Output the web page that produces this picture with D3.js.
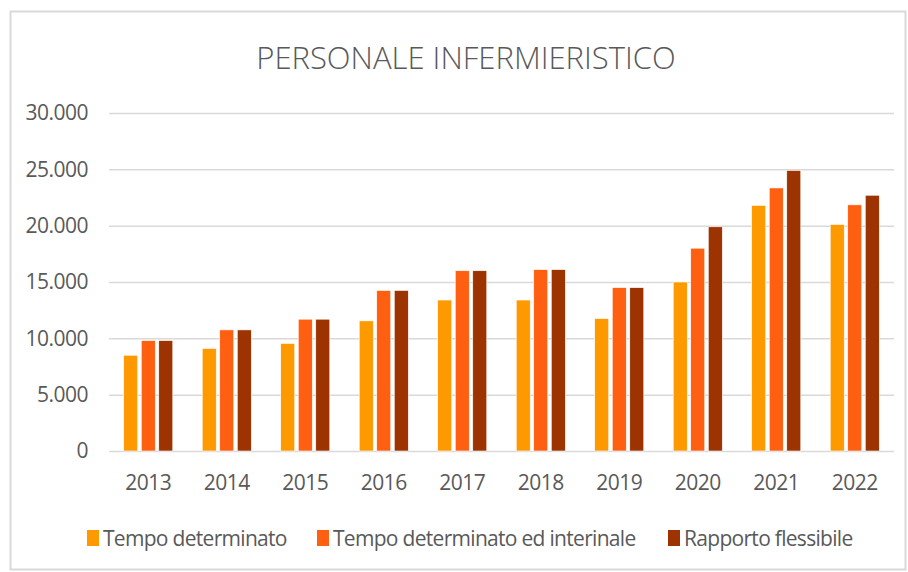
<!DOCTYPE html>
<html>
<head>
<meta charset="utf-8">
<script src="https://cdn.jsdelivr.net/npm/d3@7"></script>
<style>
  body { margin: 0; background: #fff; }
  text { font-family: "Open Sans", sans-serif; fill: #595959; }
</style>
</head>
<body>
<div id="chart"></div>
<script>
// data
const years = ["2013", "2014", "2015", "2016", "2017", "2018", "2019", "2020", "2021", "2022"];
const seriesNames = ["Tempo determinato", "Tempo determinato ed interinale", "Rapporto flessibile"];
const tempoDeterminato = [8500, 9100, 9550, 11550, 13400, 13400, 11750, 15000, 21800, 20100];
const tempoInterinale = [9800, 10750, 11700, 14250, 16000, 16100, 14500, 18000, 23350, 21850];
const rapportoFlessibile = [9800, 10750, 11700, 14250, 16000, 16100, 14500, 19900, 24900, 22700];
const yTicks = [0, 5000, 10000, 15000, 20000, 25000, 30000];
const colors = ["#FF9900", "#FF5F11", "#9C3300"];

let width = 908,
    height = 572,
    margin = ({ top: 113, right: 14, bottom: 121, left: 109 });

const svg = d3.select("#chart")
  .append("svg")
  .attr("width", width)
  .attr("height", height);

// chart frame
svg.append("rect")
  .attr("x", 10.5).attr("y", 11.5)
  .attr("width", 895).attr("height", 558)
  .attr("fill", "#fff")
  .attr("stroke", "#d9d9d9")
  .attr("stroke-width", 2);

svg.append("text")
  .attr("x", 466)
  .attr("y", 69)
  .attr("text-anchor", "middle")
  .style("font-size", "31px")
  .style("font-weight", 300)
  .text("PERSONALE INFERMIERISTICO");

let data = years.map((y, i) => ({
  year: y,
  values: [tempoDeterminato[i], tempoInterinale[i], rapportoFlessibile[i]]
}));

let x0 = d3.scaleBand()
  .domain(years)
  .range([margin.left, width - margin.right])
  .paddingInner(0.375)
  .paddingOuter(0.1875);

let x1 = d3.scaleBand()
  .domain(seriesNames)
  .range([0, x0.bandwidth()])
  .paddingInner(0.2);

let y = d3.scaleLinear()
  .domain([0, 30000])
  .range([height - margin.bottom, margin.top]);

const it = d3.formatLocale({ decimal: ",", thousands: ".", grouping: [3], currency: ["€", ""] });

// gridlines + labels
svg.append("g")
  .attr("transform", `translate(${margin.left},0)`)
  .call(d3.axisLeft(y)
    .tickValues(yTicks)
    .tickSize(-(width - margin.left - margin.right))
    .tickPadding(21)
    .tickFormat(it.format(",d")))
  .call(g => g.select(".domain").remove())
  .call(g => g.selectAll(".tick line").attr("stroke", "#d9d9d9").attr("stroke-width", 1.5))
  .call(g => g.selectAll(".tick text")
    .attr("fill", "#595959")
    .style("font-size", "21px")
    .style("letter-spacing", "-0.5px")
    .style("font-family", "\"Open Sans\", sans-serif"));

// bars
svg.append("g")
  .selectAll("g")
  .data(data)
  .join("g")
    .attr("transform", d => `translate(${x0(d.year)},0)`)
  .selectAll("rect")
  .data(d => d.values.map((v, i) => ({ name: seriesNames[i], value: v, i: i })))
  .join("rect")
    .attr("x", d => x1(d.name))
    .attr("y", d => y(d.value))
    .attr("width", x1.bandwidth())
    .attr("height", d => y(0) - y(d.value))
    .attr("fill", d => colors[d.i])
    .attr("stroke", "#fff")
    .attr("stroke-width", 0.6);

// x axis
svg.append("g")
  .attr("transform", `translate(0,${height - margin.bottom})`)
  .call(d3.axisBottom(x0).tickSize(0).tickPadding(24))
  .call(g => g.select(".domain").remove())
  .call(g => g.selectAll(".tick text")
    .attr("fill", "#595959")
    .style("font-size", "21px")
    .style("letter-spacing", "-0.5px")
    .style("font-family", "\"Open Sans\", sans-serif"));

// legend
const legendX = [87, 317, 668];
const legend = svg.append("g")
  .selectAll("g")
  .data(seriesNames)
  .join("g")
    .attr("transform", (d, i) => `translate(${legendX[i]},530)`);

legend.append("rect")
  .attr("width", 12)
  .attr("height", 16)
  .attr("fill", (d, i) => colors[i]);

legend.append("text")
  .attr("x", 16)
  .attr("y", 16)
  .style("font-size", "21px")
  .style("letter-spacing", "-0.7px")
  .text(d => d);
</script>
</body>
</html>
